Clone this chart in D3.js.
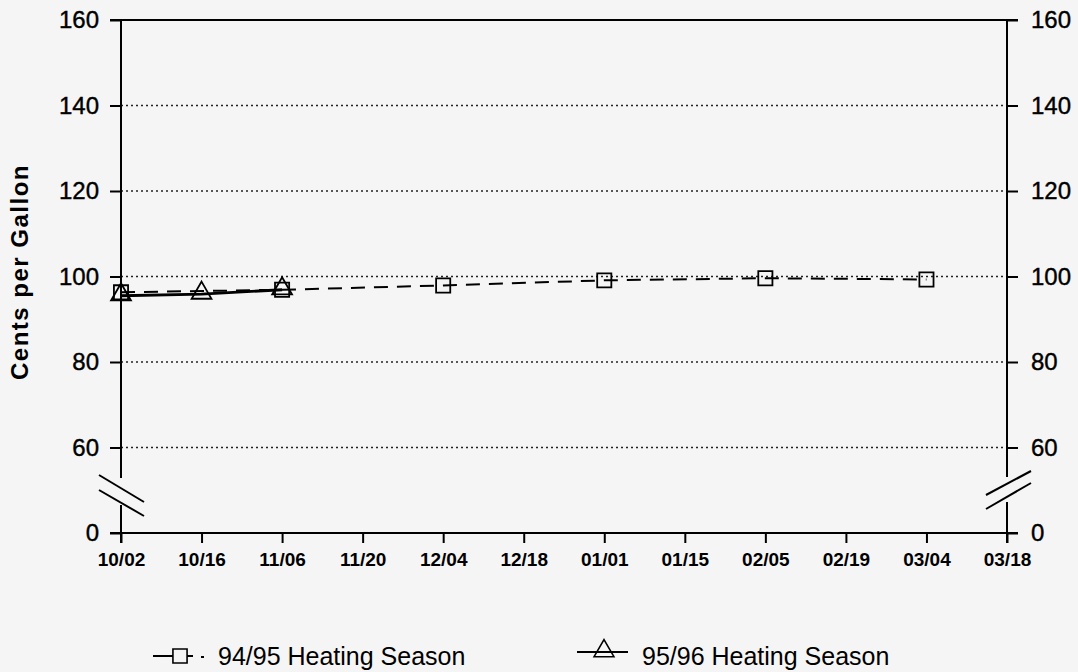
<!DOCTYPE html>
<html>
<head>
<meta charset="utf-8">
<script src="https://cdn.jsdelivr.net/npm/d3@7"></script>
<style>
  body { margin: 0; background: #f5f5f5; }
  svg { display: block; font-family: "Liberation Sans", Arial, sans-serif; }
</style>
</head>
<body>
<svg id="chart" width="1078" height="672"></svg>
<script>
// tick labels along the x axis
var dates = ["10/02", "10/16", "11/06", "11/20", "12/04", "12/18", "01/01", "01/15", "02/05", "02/19", "03/04", "03/18"];
var yTicks = [0, 60, 80, 100, 120, 140, 160];
var gridTicks = [60, 80, 100, 120, 140];

// 94/95 season (squares, dashed)
var season9495Dates = ["10/02", "11/06", "12/04", "01/01", "02/05", "03/04"];
var season9495 = [96.3, 96.9, 97.9, 99.1, 99.6, 99.3];
// 95/96 season (triangles, solid)
var season9596Dates = ["10/02", "10/16", "11/06"];
var season9596 = [95.5, 95.9, 96.9];

var svg = d3.select("#chart"),
    plotLeft = 121, plotRight = 1007, plotTop = 20, plotBottom = 533;

svg.append("rect").attr("width", 1078).attr("height", 672).attr("fill", "#f5f5f5");

var x = d3.scalePoint().domain(dates).range([plotLeft, plotRight]);
// broken axis: 0 sits one step below 60
var y = d3.scaleLinear().domain([0, 60, 160]).range([plotBottom, 447.5, plotTop]);

// dotted gridlines
svg.append("g").selectAll("line")
  .data(gridTicks)
  .enter().append("line")
    .attr("x1", plotLeft).attr("x2", plotRight)
    .attr("y1", function(d) { return y(d); })
    .attr("y2", function(d) { return y(d); })
    .attr("stroke", "#222")
    .attr("stroke-width", 1.6)
    .attr("stroke-dasharray", "2,3");

// left axis
var leftAxis = svg.append("g")
    .attr("transform", "translate(" + plotLeft + ",0)")
    .call(d3.axisLeft(y).tickValues(yTicks).tickSize(11).tickPadding(11).tickFormat(d3.format("d")));
// right axis
var rightAxis = svg.append("g")
    .attr("transform", "translate(" + plotRight + ",0)")
    .call(d3.axisRight(y).tickValues(yTicks).tickSize(11).tickPadding(13).tickFormat(d3.format("d")));
// bottom axis
var bottomAxis = svg.append("g")
    .attr("transform", "translate(0," + plotBottom + ")")
    .call(d3.axisBottom(x).tickSize(10).tickPadding(10));

[leftAxis, rightAxis].forEach(function(a) {
  a.select(".domain").remove();
  a.selectAll("line").attr("stroke", "#000").attr("stroke-width", 2);
  a.selectAll("text").attr("fill", "#000").attr("stroke", "#000").attr("stroke-width", 0.4)
    .style("font-size", "24px");
});
bottomAxis.select(".domain").remove();
bottomAxis.selectAll("line").attr("stroke", "#000").attr("stroke-width", 2);
bottomAxis.selectAll("text").attr("fill", "#000").style("font-size", "19px").style("font-weight", "bold");

// frame lines
var frame = svg.append("g").attr("stroke", "#000").attr("stroke-width", 2);
frame.append("line").attr("x1", plotLeft - 11).attr("x2", plotRight + 11).attr("y1", plotTop).attr("y2", plotTop);
frame.append("line").attr("x1", plotLeft - 11).attr("x2", plotRight + 11).attr("y1", plotBottom).attr("y2", plotBottom);
// left axis with gap
frame.append("line").attr("x1", plotLeft).attr("x2", plotLeft).attr("y1", plotTop).attr("y2", 478);
frame.append("line").attr("x1", plotLeft).attr("x2", plotLeft).attr("y1", 505).attr("y2", plotBottom + 10);
// right axis with gap
frame.append("line").attr("x1", plotRight).attr("x2", plotRight).attr("y1", plotTop).attr("y2", 477);
frame.append("line").attr("x1", plotRight).attr("x2", plotRight).attr("y1", 502).attr("y2", plotBottom + 10);
// break marks
frame.append("line").attr("x1", 99).attr("y1", 475).attr("x2", 144).attr("y2", 502);
frame.append("line").attr("x1", 99).attr("y1", 490).attr("x2", 144).attr("y2", 516);
frame.append("line").attr("x1", 986).attr("y1", 495).attr("x2", 1031).attr("y2", 471);
frame.append("line").attr("x1", 986).attr("y1", 509).attr("x2", 1031).attr("y2", 483);

// y title
svg.append("text")
    .attr("transform", "translate(28,272) rotate(-90)")
    .attr("text-anchor", "middle")
    .style("font-size", "24px")
    .style("font-weight", "bold")
    .style("letter-spacing", "1.5px")
    .text("Cents per Gallon");

var line = d3.line()
    .x(function(d) { return x(d[0]); })
    .y(function(d) { return y(d[1]); });

var pts9495 = season9495Dates.map(function(d, i) { return [d, season9495[i]]; });
var pts9596 = season9596Dates.map(function(d, i) { return [d, season9596[i]]; });

svg.append("path")
    .attr("d", line(pts9495))
    .attr("fill", "none")
    .attr("stroke", "#000")
    .attr("stroke-width", 2)
    .attr("stroke-dasharray", "14,9");

svg.append("path")
    .attr("d", line(pts9596))
    .attr("fill", "none")
    .attr("stroke", "#000")
    .attr("stroke-width", 2.8);

var square = d3.symbol().type(d3.symbolSquare).size(200);
var triangle = d3.symbol().type(d3.symbolTriangle).size(170);

svg.append("g").selectAll("path")
  .data(pts9596)
  .enter().append("path")
    .attr("d", triangle)
    .attr("transform", function(d) { return "translate(" + x(d[0]) + "," + (y(d[1]) - 1) + ")"; })
    .attr("fill", "none")
    .attr("stroke", "#000")
    .attr("stroke-width", 1.8);

svg.append("g").selectAll("path")
  .data(pts9495)
  .enter().append("path")
    .attr("d", square)
    .attr("transform", function(d) { return "translate(" + x(d[0]) + "," + y(d[1]) + ")"; })
    .attr("fill", "none")
    .attr("stroke", "#000")
    .attr("stroke-width", 1.8);

// legend
var legend = svg.append("g");
legend.append("line").attr("x1", 153).attr("x2", 173).attr("y1", 656).attr("y2", 656)
    .attr("stroke", "#000").attr("stroke-width", 2);
legend.append("line").attr("x1", 187).attr("x2", 193).attr("y1", 656).attr("y2", 656)
    .attr("stroke", "#000").attr("stroke-width", 2);
legend.append("line").attr("x1", 201).attr("x2", 204).attr("y1", 657).attr("y2", 657)
    .attr("stroke", "#000").attr("stroke-width", 2);
legend.append("path").attr("d", square).attr("transform", "translate(180,656)")
    .attr("fill", "#f5f5f5").attr("stroke", "#000").attr("stroke-width", 1.6);
legend.append("text").attr("x", 218).attr("y", 665).style("font-size", "25px").text("94/95 Heating Season");

legend.append("line").attr("x1", 577).attr("x2", 628).attr("y1", 652).attr("y2", 652)
    .attr("stroke", "#000").attr("stroke-width", 2);
legend.append("path").attr("d", triangle).attr("transform", "translate(604,651)")
    .attr("fill", "none").attr("stroke", "#000").attr("stroke-width", 1.6);
legend.append("text").attr("x", 642).attr("y", 665).style("font-size", "25px").text("95/96 Heating Season");
</script>
</body>
</html>
